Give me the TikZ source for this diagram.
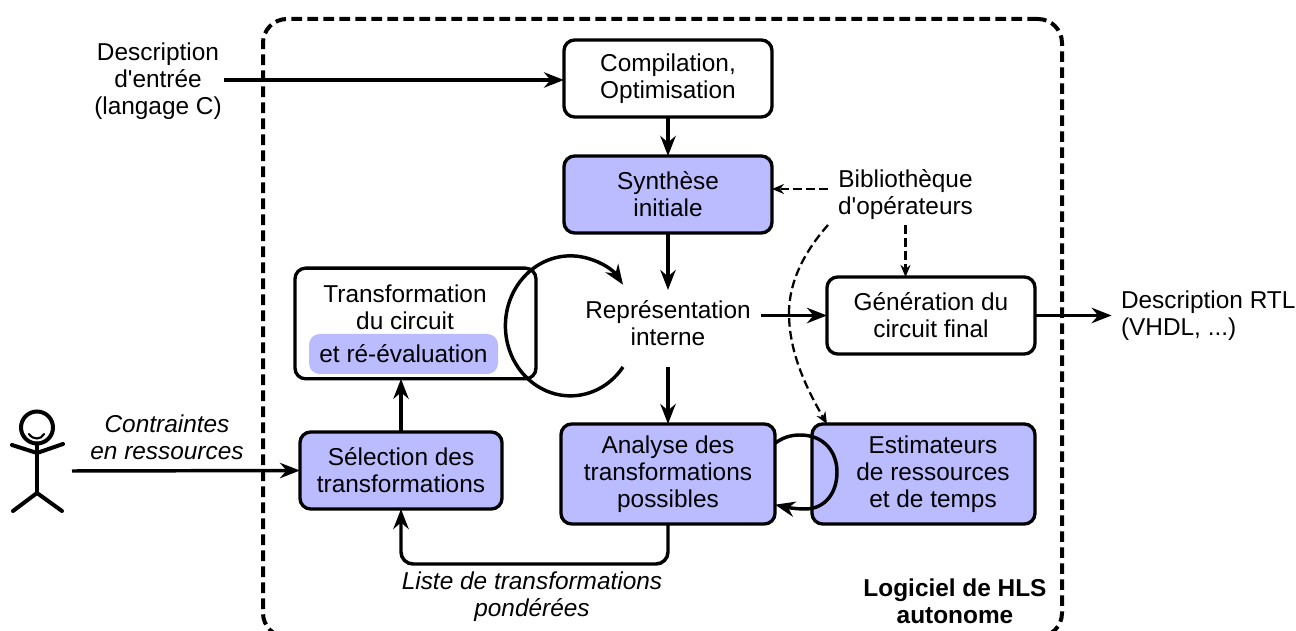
\documentclass[tikz,border=0pt]{standalone}
\usepackage{fontspec}
\setmainfont{Liberation Sans}
\usepackage{tikz}
\usetikzlibrary{arrows.meta,positioning}
\usepackage{xcolor}
\definecolor{hlsblue}{RGB}{187,187,255}
\tikzstyle{process} = [rectangle, rounded corners=8pt, minimum width=156pt, minimum height=57.75pt, align=center, draw=black, line width=2.5pt, outer sep=0pt, inner sep=0pt]
\tikzstyle{hlsprocess} = [process, fill=hlsblue]
\tikzstyle{plain} = [align=center, inner sep=0pt, outer sep=0pt]
\tikzstyle{arrow} = [line width=2.6pt,-{Stealth[length=15pt,width=11.5pt]}]
\tikzstyle{dasharrow} = [line width=1.7pt,dash pattern=on 6.5pt off 3.2pt,-{Stealth[length=9pt,width=7.5pt]}]
\tikzstyle{limb} = [line width=3pt,line cap=round,line join=round]

\begin{document}
\begin{tikzpicture}[x=0.75pt,y=0.75pt,font=\fontsize{18.3}{20.25}\selectfont]
\useasboundingbox (0,0) rectangle (1296,631);
% Software boundary
\node[rectangle, draw, rounded corners=18pt, line width=3pt, dash pattern=on 8pt off 4pt, minimum width=599.25pt, minimum height=463.5pt, outer sep=0pt] (hls) at (662.5,303) {};
\node[plain, font=\fontsize{18.3}{20.25}\selectfont\bfseries] (hlstext) at (955,30) {Logiciel de HLS\\autonome};

% Main flow
\node[process] (compil) at (668,552.5) {Compilation,\\Optimisation};
\node[hlsprocess, below=29.25pt of compil] (synth) {Synthèse\\initiale};
\node[plain, minimum width=139.5pt, minimum height=49.5pt] (repr) at (668,308) {Représentation\\interne};
\node[process] (gener) at (931,315.5) {Génération du\\circuit final};
\node[plain, minimum width=116.25pt, minimum height=45.75pt] (biblio) at (905.5,436.5) {Bibliothèque\\d\textquotesingle opérateurs};
\node[plain] (desc) at (158,550) {Description\\d\textquotesingle entrée\\(langage C)};
\node[plain, align=left, anchor=west] (descrtl) at (1121,315) {Description RTL\\(VHDL, ...)};

% Transformation loop
\node[process, minimum width=180.75pt, minimum height=83pt] (transfo) at (415.5,307.5) {};
\node[plain] (transfotext) at (405,324) {Transformation\\du circuit};
\node[rectangle, rounded corners=8pt, fill=hlsblue, minimum width=141.75pt, minimum height=30pt, inner sep=0pt] (reeval) at (403.5,277) {et ré-évaluation};
\node[hlsprocess, minimum width=151.5pt] (select) at (401,160.5) {Sélection des\\transformations};
\node[hlsprocess, minimum width=160.5pt, minimum height=75pt] (analyse) at (668,157) {Analyse des\\transformations\\possibles};
\node[hlsprocess, minimum width=167.25pt, minimum height=75pt] (estim) at (923.5,157) {};
\node[plain] (estimtext) at (933,157) {Estimateurs\\de ressources\\et de temps};

% Labels
\node[plain, font=\fontsize{18.3}{20.25}\selectfont\itshape] (contr) at (167,194) {Contraintes\\en ressources};
\node[plain, font=\fontsize{18.3}{20.25}\selectfont\itshape] (liste) at (532,34) {Liste de transformations\\pondérées};

% Person
\coordinate (hip) at (37,138);
\coordinate (persout) at (72,160);
\node[circle, draw, line width=3pt, minimum size=24pt, inner sep=0pt, outer sep=0pt] (head) at (37,203.5) {};
\draw[limb] (head.south) -- (hip);
\draw[limb] (12,186) -- (37,178) -- (63,187);
\draw[limb] (13,120) -- (hip) -- (62,120);
\draw[line width=1.6pt,line cap=round] (29,197) .. controls (33,191) and (41,191) .. (44,197);

% Arrows
\draw[arrow, shorten <=2pt] (desc.east |- 0,551) -- (compil.west |- 0,551);
\draw[arrow] (compil.south) -- (synth.north);
\draw[arrow] (synth.south) -- (repr.north);
\draw[arrow, shorten <=8pt] (repr.south) -- (repr.south |- analyse.north);
\draw[arrow] (repr.east |- gener.west) -- (gener.west);
\draw[arrow, shorten >=7pt] (gener.east) -- (descrtl.west |- gener.east);
\draw[arrow] (select.north) -- (select.north |- transfo.south);
\draw[arrow] (persout) -- (select.west);
\draw[arrow, rounded corners=9pt] (analyse.south) -- (analyse.south |- 0,67) -- (select.south |- 0,67) -- (select.south);
\draw[arrow] (623,264) arc [start angle=-36, end angle=-324, x radius=65, y radius=70];
\draw[arrow] (analyse.16) .. controls (782,193) and (790,196) .. (800,196) .. controls (825,196) and (837,178) .. (837,159) .. controls (837,138) and (825,122) .. (805,122) .. controls (795,122) and (785,124) .. (analyse.-16);

% Library links
\coordinate (bibwest) at (828,442);
\draw[dasharrow] (bibwest) -- (bibwest -| synth.east);
\draw[dasharrow] (biblio.south) -- (biblio.south |- gener.north);
\draw[dasharrow] (biblio.south west) .. controls (805,380) and (789,350) .. (789,318) .. controls (789,280) and (805,245) .. ([xshift=11.25pt]estim.north west);
\end{tikzpicture}
\end{document}
